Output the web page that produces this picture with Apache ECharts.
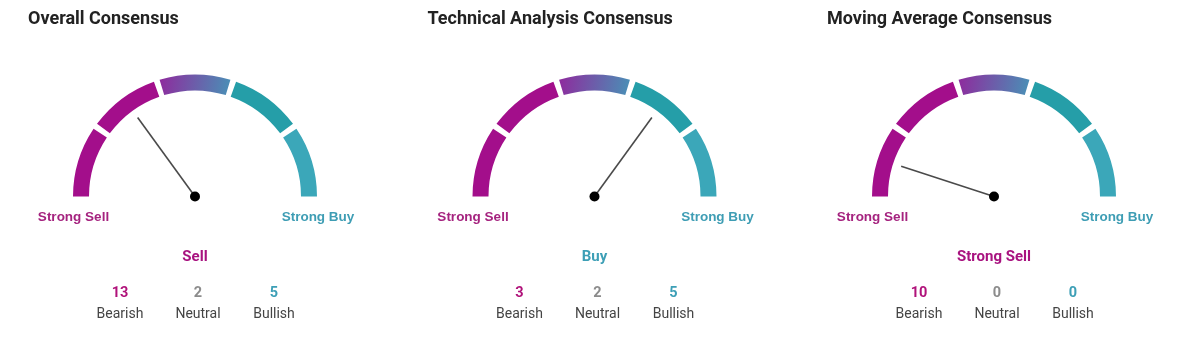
<!DOCTYPE html>
<html>
<head>
<meta charset="utf-8">
<title>Consensus gauges</title>
<script src="https://cdn.jsdelivr.net/npm/echarts@6/dist/echarts.min.js"></script>
<style>
  html, body { margin: 0; padding: 0; background: #ffffff; }
  #chart { width: 1179px; height: 343px; }
</style>
</head>
<body>
<div id="chart"></div>
<script>
// ---- data ----
const panelTitles = ['Overall Consensus', 'Technical Analysis Consensus', 'Moving Average Consensus'];
const bandNames = ['Strong Sell', 'Sell', 'Neutral', 'Buy', 'Strong Buy'];
const bandWidths = [20, 20, 20, 20, 20];
const needleValues = [30, 70, 10];
const verdicts = ['Sell', 'Buy', 'Strong Sell'];
const bearishCounts = [13, 3, 10];
const neutralCounts = [2, 2, 0];
const bullishCounts = [5, 5, 0];
const countLabels = ['Bearish', 'Neutral', 'Bullish'];

// ---- styling ----
const MAGENTA = '#a30e8b';
const TEAL = '#3ba7b9';
const bandColors = [
  MAGENTA,
  MAGENTA,
  { type: 'linear', x: 0, y: 0, x2: 1, y2: 0.6,
    colorStops: [{ offset: 0, color: '#8f2a9d' }, { offset: 1, color: '#4a8fb6' }] },
  '#259ea8',
  TEAL
];
const verdictColor = { 'Strong Sell': '#a8127f', 'Sell': '#a8127f', 'Neutral': '#888888', 'Buy': '#3d9fb6', 'Strong Buy': '#3d9fb6' };
const countColors = ['#b0127a', '#8c8c8c', '#3d9fb6'];

const PANEL_STEP = 399.5;
const GAUGE_CX = 195;
const GAUGE_CY = 196.5;
const R_OUT = 122;
const R_IN = 106;
const PAD = 2.8;

const chart = echarts.init(document.getElementById('chart'), null, { renderer: 'canvas' });

const series = [];
const graphics = [];

panelTitles.forEach((title, i) => {
  const cx = GAUGE_CX + i * PANEL_STEP;

  // coloured bands
  series.push({
    type: 'pie',
    silent: true,
    center: [cx, GAUGE_CY],
    radius: [R_IN, R_OUT],
    startAngle: 180 + PAD / 2,
    endAngle: -PAD / 2,
    padAngle: PAD,
    clockwise: true,
    label: { show: false },
    labelLine: { show: false },
    emphasis: { disabled: true },
    animation: false,
    data: bandWidths.map((w, k) => ({
      name: bandNames[k],
      value: w,
      itemStyle: { color: bandColors[k] }
    }))
  });

  // needle
  series.push({
    type: 'gauge',
    center: [cx, GAUGE_CY],
    radius: R_OUT,
    startAngle: 180,
    endAngle: 0,
    min: 0,
    max: 100,
    animation: false,
    silent: true,
    axisLine: { show: false },
    splitLine: { show: false },
    axisTick: { show: false },
    axisLabel: { show: false },
    title: { show: false },
    detail: { show: false },
    pointer: {
      icon: 'rect',
      length: '80%',
      width: 1.6,
      itemStyle: { color: '#4a4a4a' }
    },
    anchor: {
      show: true,
      showAbove: true,
      icon: 'circle',
      size: 10,
      itemStyle: { color: '#000000' }
    },
    data: [{ value: needleValues[i] }]
  });

  const ox = i * PANEL_STEP;

  graphics.push({
    type: 'text', x: 28 + ox, y: 19, silent: true,
    style: { text: title, align: 'left', verticalAlign: 'middle',
      font: 'bold 18px Roboto, "Liberation Sans", sans-serif', fill: '#222222' }
  });

  graphics.push({
    type: 'text', x: cx - R_OUT + 0.5, y: 217, silent: true,
    style: { text: bandNames[0], align: 'center', verticalAlign: 'middle',
      font: 'bold 13.5px "Liberation Sans", Arial, sans-serif', fill: '#a5237f' }
  });
  graphics.push({
    type: 'text', x: cx + R_OUT + 1, y: 217, silent: true,
    style: { text: bandNames[4], align: 'center', verticalAlign: 'middle',
      font: 'bold 13.5px "Liberation Sans", Arial, sans-serif', fill: '#3e9db4' }
  });

  graphics.push({
    type: 'text', x: cx, y: 257.5, silent: true,
    style: { text: verdicts[i], align: 'center', verticalAlign: 'middle',
      font: 'bold 15px Roboto, sans-serif', fill: verdictColor[verdicts[i]] }
  });

  const counts = [bearishCounts[i], neutralCounts[i], bullishCounts[i]];
  const offsets = [-75, 3, 79];
  counts.forEach((c, k) => {
    graphics.push({
      type: 'text', x: cx + offsets[k], y: 293.5, silent: true,
      style: { text: String(c), align: 'center', verticalAlign: 'middle',
        font: 'bold 14.5px Roboto, sans-serif', fill: countColors[k] }
    });
    graphics.push({
      type: 'text', x: cx + offsets[k], y: 314.5, silent: true,
      style: { text: countLabels[k], align: 'center', verticalAlign: 'middle',
        font: '14px Roboto, sans-serif', fill: '#444444' }
    });
  });
});

chart.setOption({
  backgroundColor: '#ffffff',
  animation: false,
  series: series,
  graphic: graphics
});
</script>
</body>
</html>
